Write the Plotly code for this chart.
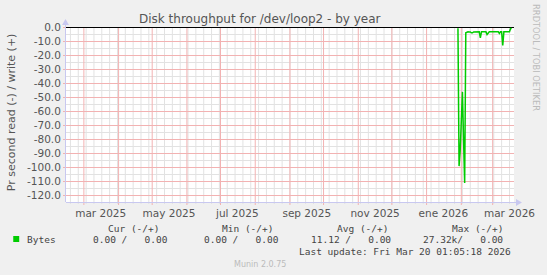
import plotly.graph_objects as go
import pandas as pd

# ---------------- data ----------------
x_start = "2025-02-13 01:05:18"
x_end = "2026-03-20 01:05:18"

read_start = "2026-01-29"
read_values = [
    -0.5, -99, -88,                              # Jan 29-31
    -72, -46, -80, -111,                         # Feb 1-4
    -3.8, -3.1, -3.1, -3.2, -3.2, -3.8, -3.8, -3.2,   # Feb 5-12
    -3.1, -3.1, -3.1, -3.1, -3.1,                # Feb 13-17
    -7.4,                                        # Feb 18
    -3.1, -3.1, -3.1, -3.1, -3.1,                # Feb 19-23
    -5.0, -4.2,                                  # Feb 24-25
    -3.1, -3.1, -3.1, -3.1, -3.1, -3.1, -3.1, -3.1, -3.1,  # Feb 26 - Mar 6
    -4.3, -3.1, -3.1,                            # Mar 7-9
    -12.9,                                       # Mar 10
    -3.1, -3.1, -3.1, -3.1, -3.1, -3.1,          # Mar 11-16
    -0.7, -0.7,                                  # Mar 17-18
]
read_dates = pd.date_range(read_start, periods=len(read_values), freq="D")

y_ticks = [0, -10, -20, -30, -40, -50, -60, -70, -80, -90, -100, -110, -120]
y_ticktext = ["%.1f" % v for v in y_ticks]
y_minor = [-5, -15, -25, -35, -45, -55, -65, -75, -85, -95, -105, -115]

week_starts = pd.date_range("2025-02-17", "2026-03-16", freq="7D")   # Mondays
month_starts = pd.date_range("2025-03-01", "2026-03-01", freq="MS")

x_label_dates = ["2025-03-16", "2025-05-16", "2025-07-16", "2025-09-16",
                 "2025-11-16", "2026-01-16", "2026-03-16"]
x_label_text = ["mar 2025", "may 2025", "jul 2025", "sep 2025",
                "nov 2025", "ene 2026", "mar 2026"]

title_text = "Disk throughput for /dev/loop2 - by year"
y_title = "Pr second read (-) / write (+)"
legend_name = "Bytes"
legend_headers = ["Cur (-/+)", "Min (-/+)", "Avg (-/+)", "Max (-/+)"]
legend_values = ["0.00 /   0.00", "0.00 /   0.00", "11.12 /   0.00", "27.32k/   0.00"]
last_update = "Last update: Fri Mar 20 01:05:18 2026"
munin_ver = "Munin 2.0.75"
rrd_credit = "RRDTOOL / TOBI OETIKER"

# ---------------- layout geometry ----------------
W, H = 547, 275
L, R, T, B = 66, 516, 27, 202
PW, PH = R - L, B - T
PX_PER_UNIT = 1.4
Y_RANGE = [-(PH - 0.5) / PX_PER_UNIT, 0.5 / PX_PER_UNIT]   # 0 sits on a half pixel


def px(x):
    return (x - L) / PW


def py(y):
    return (B - y) / PH


def nb(s):
    return s.replace(" ", "\u00a0")


GREEN = "#00CC00"
MGRID = "#F2B2B2"
GRID = "#E2E2E2"
AXIS = "#C8C8F0"
TXT = "#555555"

fig = go.Figure()

fig.add_trace(go.Scatter(
    x=read_dates, y=read_values, mode="lines",
    line=dict(color=GREEN, width=1.5), hoverinfo="skip", showlegend=False,
))
# helper trace so the label axis is drawn
fig.add_trace(go.Scatter(
    x=read_dates, y=read_values, mode="lines", xaxis="x2",
    line=dict(color="rgba(0,0,0,0)", width=0), hoverinfo="skip", showlegend=False,
))

fig.update_layout(
    width=W, height=H,
    margin=dict(l=L, r=W - R, t=T, b=H - B, pad=0),
    paper_bgcolor="#F0F0F0", plot_bgcolor="#FFFFFF",
    font=dict(family="DejaVu Sans", size=10.5, color=TXT),
    showlegend=False,
    xaxis=dict(
        type="date", range=[x_start, x_end], showticklabels=False,
        showgrid=False, ticks="",
        showline=False, zeroline=False, fixedrange=True,
    ),
    xaxis2=dict(
        type="date", range=[x_start, x_end], overlaying="x", anchor="y", side="bottom",
        showgrid=False, zeroline=False, showline=False,
        tickmode="array", tickvals=x_label_dates, ticktext=x_label_text,
        ticks="outside", ticklen=1, tickcolor="rgba(0,0,0,0)",
        tickfont=dict(family="DejaVu Sans", size=10.5, color=TXT),
        fixedrange=True,
    ),
    yaxis=dict(
        range=Y_RANGE, tickmode="array", tickvals=y_ticks, ticktext=y_ticktext,
        showgrid=True, gridcolor=MGRID, gridwidth=1,
        ticks="outside", ticklen=2, tickcolor=MGRID,
        zeroline=True, zerolinecolor="#000000", zerolinewidth=1,
        showline=False, fixedrange=True,
        tickfont=dict(family="DejaVu Sans", size=10.5, color=TXT),
    ),
)

shapes = []
# minor grid (weekly / every 5 units), light grey
for d in week_starts:
    shapes.append(dict(type="line", layer="between", xref="x", yref="paper",
                       x0=d, x1=d, y0=0, y1=1, line=dict(color=GRID, width=1)))
    shapes.append(dict(type="line", layer="between", xref="x", yref="paper",
                       x0=d, x1=d, y0=py(B), y1=py(B + 2), line=dict(color=GRID, width=1)))
for v in y_minor:
    shapes.append(dict(type="line", layer="between", xref="paper", yref="y",
                       x0=0, x1=1, y0=v, y1=v, line=dict(color=GRID, width=1)))
# major grid (month starts), pale red, on top of the weekly lines
for m in month_starts:
    shapes.append(dict(type="line", layer="between", xref="x", yref="paper",
                       x0=m, x1=m, y0=0, y1=1, line=dict(color=MGRID, width=1)))
    shapes.append(dict(type="line", layer="between", xref="x", yref="paper",
                       x0=m, x1=m, y0=py(B), y1=py(B + 3), line=dict(color=MGRID, width=1)))
# zero line on top of the grid
shapes.append(dict(type="line", layer="between", xref="paper", yref="y",
                   x0=0, x1=1, y0=0, y1=0, line=dict(color="#000000", width=1)))
# axis lines with arrows (rrdtool style) and legend colour box
shapes += [
    dict(type="line", xref="paper", yref="paper", x0=px(L), x1=px(519), y0=py(B + 0.5), y1=py(B + 0.5),
         line=dict(color=AXIS, width=1)),
    dict(type="path", xref="paper", yref="paper",
         path="M %f %f L %f %f L %f %f Z" % (px(518), py(B - 3), px(524), py(B + 0.5), px(518), py(B + 4)),
         fillcolor=AXIS, line=dict(color=AXIS, width=0)),
    dict(type="line", xref="paper", yref="paper", x0=px(L - 0.5), x1=px(L - 0.5), y0=py(B), y1=py(24),
         line=dict(color=AXIS, width=1)),
    dict(type="path", xref="paper", yref="paper",
         path="M %f %f L %f %f L %f %f Z" % (px(L - 4), py(25), px(L - 0.5), py(19), px(L + 3), py(25)),
         fillcolor=AXIS, line=dict(color=AXIS, width=0)),
    dict(type="rect", xref="paper", yref="paper", x0=px(13), x1=px(19), y0=py(242), y1=py(236),
         fillcolor=GREEN, line=dict(color=GREEN, width=0)),
]
fig.update_layout(shapes=shapes)

ann = []


def add(text, x, y, size=9.5, family="DejaVu Sans Mono", color="#444444", xanchor="left",
        angle=0):
    ann.append(dict(text=nb(text), x=px(x), y=py(y), xref="paper", yref="paper",
                    xanchor=xanchor, yanchor="middle", showarrow=False, textangle=angle,
                    font=dict(family=family, size=size, color=color)))


add(title_text, 261, 19, size=12, family="DejaVu Sans", color=TXT, xanchor="center")
add(y_title, 11, 112, size=11, family="DejaVu Sans", color=TXT, xanchor="center", angle=-90)
add(rrd_credit, 538, 58, size=8.3, family="DejaVu Sans", color="#BBBBBB", xanchor="center", angle=90)

header_x = [106, 221, 336.7, 451.7]
for h, hx in zip(legend_headers, header_x):
    add(h, hx, 228)
add(legend_name, 25, 239.5)
value_x = [90.7, 203, 310, 422.7]
for v, vx in zip(legend_values, value_x):
    add(v, vx, 239.5)
add(last_update, 297.7, 251.5)
add(munin_ver, 260.5, 264, size=8, family="DejaVu Sans", color="#BBBBBB", xanchor="center")

fig.update_layout(annotations=ann)

fig.write_html("out.html")
